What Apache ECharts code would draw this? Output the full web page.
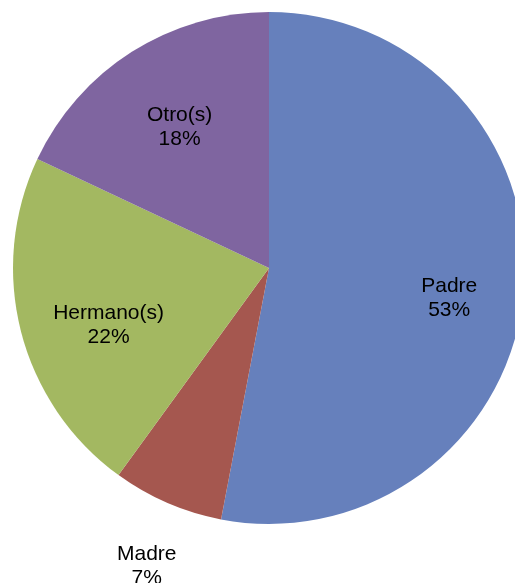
<!DOCTYPE html>
<html>
<head>
<meta charset="utf-8">
<script src="https://cdn.jsdelivr.net/npm/echarts@6/dist/echarts.min.js"></script>
<style>
html,body{margin:0;padding:0;background:#fff;}
#chart{width:515px;height:583px;}
</style>
</head>
<body>
<div id="chart"></div>
<script>
const categories = ["Padre", "Madre", "Hermano(s)", "Otro(s)"];
const values = [53, 7, 22, 18];
const colors = ["#6680bc", "#a5574f", "#a3b861", "#7f65a0"];
const outsideLabels = ["Madre"];

const chart = echarts.init(document.getElementById('chart'));
const center = [269, 268];
const font = { color: '#000', fontSize: 21, lineHeight: 24, fontFamily: '"Liberation Sans", Arial, sans-serif' };
const labelOffsets = { "Padre": [3, 13], "Madre": [6, 2], "Hermano(s)": [12, 13], "Otro(s)": [6, 9] };

const base = categories.map((c, i) => ({ name: c, value: values[i], itemStyle: { color: colors[i] } }));

chart.setOption({
  animation: false,
  series: [
    {
      type: 'pie', center: center, radius: 256, startAngle: 90, clockwise: true,
      silent: true, label: { show: false }, labelLine: { show: false },
      data: base
    },
    {
      type: 'pie', center: center, radius: [160, 190], startAngle: 90, clockwise: true,
      silent: true, labelLine: { show: false },
      itemStyle: { color: 'rgba(0,0,0,0)' },
      label: Object.assign({ show: true, position: 'inside', formatter: '{b}\n{c}%' }, font),
      data: categories.map((c, i) => ({ name: c, value: values[i], label: { show: outsideLabels.indexOf(c) < 0, offset: labelOffsets[c] } }))
    },
    {
      type: 'pie', center: center, radius: [305, 335], startAngle: 90, clockwise: true,
      silent: true, labelLine: { show: false },
      itemStyle: { color: 'rgba(0,0,0,0)' },
      label: Object.assign({ show: true, position: 'inside', formatter: '{b}\n{c}%' }, font),
      data: categories.map((c, i) => ({ name: c, value: values[i], label: { show: outsideLabels.indexOf(c) >= 0, offset: labelOffsets[c] } }))
    }
  ]
});
</script>
</body>
</html>
